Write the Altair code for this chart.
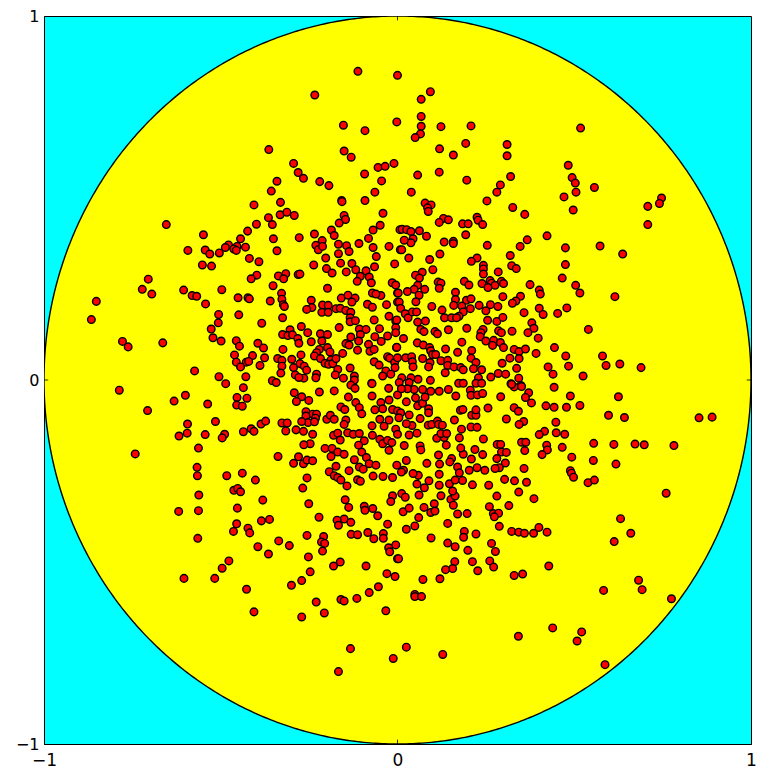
import altair as alt
import pandas as pd

upper_left = [
(-.112,.848),(0,.837),(-.234,.783),(-.153,.700),(-.092,.685),(-.002,.709),(-.364,.633),(-.151,.629),(-.131,.612),(-.294,.595),
(-.281,.570),(-.266,.554),(-.341,.546),(-.357,.519),(-.220,.545),(-.194,.534),(-.055,.584),(-.035,.587),(-.010,.595),(-.093,.566),
(-.045,.547),(-.064,.516),(-.092,.493),(-.158,.493),(-.157,.490),(-.331,.488),(-.406,.481),(-.332,.454),(-.313,.461),(-.292,.452),
(-.365,.446),(-.354,.427),(-.399,.428),(-.424,.409),(-.549,.399),(-.654,.427),(-.041,.458),(-.151,.452),(-.147,.441),(-.165,.431),
(-.049,.425),(-.069,.412),(-.187,.412),(-.179,.397),(-.235,.401),(-.278,.391),(-.351,.388),(-.444,.388),(-.213,.383),(-.082,.389),
(-.231,.370),(-.224,.358),(-.212,.367),(-.167,.373),(-.144,.369),(-.137,.353),(-.167,.347),(-.109,.375),(-.069,.364),(-.024,.367),
(.007,.413),(.008,.358),(-.478,.371),(-.487,.364),(-.454,.367),(-.463,.360),(-.456,.356),(-.430,.365),(-.504,.349),(-.544,.357),
(-.531,.346),(-.593,.356),(-.341,.355),(-.419,.334),(-.392,.325),(-.552,.316),(-.526,.313),(-.203,.335),(-.237,.316),(-.161,.321),
(-.201,.306),(-.185,.294),(-.145,.297),(-.129,.320),(-.118,.303),(-.060,.339),(-.065,.311),(-.089,.300),(-.008,.319),(-.080,.283),
(-.105,.285),(-.114,.271),(-.074,.267),(-.015,.267),(-.005,.261),(-.337,.286),(-.316,.292),(-.322,.278),(-.398,.288),(-.414,.278),
(-.281,.290),(-.276,.291),(-.352,.259),(-.198,.252),(-.705,.277),(-.722,.249),(-.695,.236),(-.605,.247),(-.581,.232),(-.568,.230),
(-.497,.248),(-.852,.216),(-.866,.166),(-.543,.209),(-.451,.226),(-.423,.226),(-.419,.223),(-.360,.217),(-.328,.238),(-.327,.222),
(-.323,.207),(-.320,.202),(-.244,.219),(-.242,.199),(-.257,.194),(-.212,.206),(-.196,.205),(-.214,.186),(-.196,.186),(-.174,.196),
(-.162,.197),(-.159,.225),(-.140,.233),(-.120,.225),(-.129,.214),(-.146,.191),(-.132,.186),(-.071,.239),(-.047,.232),(-.061,.236),
(-.085,.208),(-.071,.200),(-.031,.207),(0,.239),(0,.214),(-.024,.175),(-.005,.162),(-.066,.165),(-.506,.180),(-.507,.157),
(-.449,.179),(-.384,.156),(-.325,.171),(-.134,.171),(-.134,.160),(-.119,.163),(-.272,.147),(-.527,.140),(-.304,.138),(-.165,.144),
(-.108,.140),(-.089,.139),(-.051,.141),(-.005,.144),(-.522,.116),(-.499,.107),(-.325,.125),(-.310,.122),(-.297,.124),(-.282,.114),
(-.279,.101),(-.254,.130),(-.218,.127),(-.198,.125),(-.244,.105),(-.214,.107),(-.132,.118),(-.105,.125),(-.110,.107),(-.146,.100),
(-.137,.096),(-.064,.119),(-.046,.106),(-.028,.121),(-.082,.098),(-.778,.106),(-.762,.091),(-.664,.102),(-.456,.108),(-.447,.093),
(-.395,.101),(-.379,.088),(-.324,.084),(-.198,.089),(-.221,.084),(-.229,.075),(-.235,.066),(-.191,.077),(-.155,.073),(-.113,.082),
(-.078,.079),(-.066,.084),(-.003,.089),(-.273,.069),(-.461,.069),(-.410,.067),(-.376,.061),(-.339,.059),(-.327,.054),(-.299,.057),
(-.218,.059),(-.188,.055),(-.456,.049),(-.428,.049),(-.421,.051),(-.389,.040),(-.444,.036),(-.327,.038),(-.294,.034),(-.276,.045),
(-.264,.038),(-.257,.027),(-.205,.046),(-.195,.043),(-.183,.045),(-.174,.059),(-.169,.029),(-.134,.033),(-.066,.050),(-.052,.041),
(-.028,.064),(-.022,.060),(-.008,.048),(-.007,.034),(-.033,.025),(-.042,.011),(-.019,.016),(-.574,.025),(-.505,.009),(-.429,.009),
(-.330,.019),(-.289,.014),(-.229,.016),(-.231,.006),(-.176,.014),(-.153,.005),(-.122,.011),(-.122,.000),(-.265,.005),(-.279,.007),
(-.354,-.002),(-.486,-.010),(-.343,-.007),(-.073,-.009),
]

upper_right = [
(.093,.792),(.067,.771),(.067,.724),(.067,.697),(.123,.696),(.208,.698),(.518,.692),(.065,.676),(.050,.666),(.119,.635),
(.193,.650),(.158,.618),(.310,.647),(.310,.616),(.057,.563),(.118,.571),(.196,.549),(.320,.559),(.291,.536),(.281,.516),
(.483,.590),(.494,.556),(.503,.541),(.505,.516),(.557,.529),(.471,.503),(.497,.467),(.039,.516),(.253,.492),(.078,.486),
(.095,.481),(.085,.473),(.087,.463),(.326,.474),(.360,.455),(.747,.500),(.741,.485),(.708,.477),(.708,.427),(.130,.444),
(.144,.440),(.118,.433),(.225,.447),(.228,.439),(.241,.427),(.184,.429),(.200,.429),(.013,.414),(.026,.413),(.038,.408),
(.062,.410),(.082,.395),(.044,.388),(.038,.377),(.019,.384),(.193,.399),(.423,.396),(.367,.385),(.347,.367),(.132,.379),
(.158,.381),(.158,.375),(.254,.370),(.475,.363),(.573,.368),(.637,.346),(.012,.358),(.120,.346),(.032,.335),(.091,.331),
(.319,.342),(.225,.335),(.209,.326),(.243,.315),(.243,.305),(.243,.291),(.323,.314),(.336,.306),(.475,.317),(.100,.303),
(.070,.296),(.051,.288),(.062,.280),(.285,.297),(.466,.280),(.115,.269),(.123,.266),(.118,.252),(.189,.271),(.202,.261),
(.239,.265),(.262,.273),(.266,.266),(.276,.260),(.256,.254),(.294,.271),(.300,.265),(.375,.262),(.504,.260),(.401,.247),
(.404,.236),(.516,.239),(.615,.229),(.057,.260),(.047,.249),(.077,.249),(.028,.243),(.002,.239),(.061,.233),(.052,.215),
(.164,.241),(.164,.221),(.195,.219),(.208,.223),(.298,.229),(.348,.230),(.335,.217),(.325,.211),(.097,.202),(.159,.205),
(.182,.203),(.206,.196),(.186,.187),(.231,.205),(.263,.207),(.284,.202),(.250,.190),(.126,.192),(.174,.175),(.133,.171),
(.153,.171),(.167,.171),(.401,.197),(.412,.180),(.358,.185),(.453,.183),(.479,.198),(.005,.214),(.009,.197),(.022,.182),
(.030,.171),(.042,.187),(.054,.187),(-.002,.165),(.255,.164),(.281,.161),(.298,.172),(.079,.162),(.057,.159),(.380,.157),
(.386,.142),(.066,.139),(.075,.133),(.106,.133),(.113,.127),(.144,.138),(.196,.142),(.242,.139),(.236,.130),(.234,.119),
(.286,.135),(.294,.130),(.324,.134),(.369,.130),(.540,.139),(.398,.115),(-.005,.130),(.017,.114),(.056,.102),(.073,.096),
(.182,.104),(.272,.109),(.250,.107),(.291,.103),(.269,.095),(.300,.089),(.091,.089),(.094,.080),(.136,.085),(.170,.076),
(.210,.081),(.330,.084),(.344,.078),(.362,.085),(.392,.073),(.444,.089),(-.002,.090),(0,.061),(.023,.061),(.040,.064),
(.071,.059),(.099,.070),(.108,.070),(.042,.050),(.092,.048),(.088,.036),(.123,.053),(.142,.054),(.142,.040),(.160,.036),
(.179,.034),(.186,.028),(.208,.060),(.222,.048),(.215,.031),(.238,.028),(.318,.060),(.344,.059),(.296,.046),(.337,.032),
(.476,.066),(.580,.066),(.590,.040),(.629,.044),(.689,.034),(.426,.036),(.440,.016),(.484,.038),(.525,.011),(.044,.036),
(.135,.020),(.285,.018),(.306,.016),(.264,.008),(.229,.006),(.343,.005),(.093,-.001),(.058,.002),(.038,.006),(.012,.006),
(.033,-.007),(.173,-.009),(.186,-.009),(.222,-.009),(.238,-.009),(.321,-.010),(.349,-.015),(.005,-.007),
]

lower_left = [
(-.787,-.028),(-.632,-.058),(-.600,-.042),(-.707,-.084),(-.537,-.066),(-.454,-.048),(-.426,-.050),(-.455,-.069),(-.439,-.072),(-.436,-.021),
(-.292,-.035),(-.271,-.046),(-.286,-.059),(-.251,-.056),(-.221,-.033),(-.179,-.030),(-.139,-.047),(-.132,-.014),(-.120,-.023),(-.072,-.010),
(-.025,-.023),(-.072,-.044),(0,-.041),(-.118,-.062),(-.108,-.076),(-.101,-.093),(-.160,-.074),(-.149,-.081),(-.064,-.082),(-.047,-.062),
(-.042,-.079),(-.024,-.055),(-.014,-.081),(0,-.085),(-.259,-.087),(-.240,-.094),(-.229,-.094),(-.259,-.099),(-.232,-.105),(-.253,-.117),
(-.271,-.114),(-.235,-.115),(-.200,-.108),(-.190,-.097),(-.179,-.108),(-.146,-.110),(-.151,-.122),(-.050,-.108),(-.024,-.110),(-.072,-.126),
(-.038,-.127),(-.005,-.135),(-.594,-.121),(-.515,-.114),(-.386,-.121),(-.373,-.113),(-.327,-.118),(-.312,-.118),(-.595,-.146),(-.618,-.154),
(-.544,-.150),(-.489,-.149),(-.496,-.159),(-.436,-.142),(-.414,-.134),(-.406,-.141),(-.316,-.140),(-.287,-.137),(-.266,-.141),(-.240,-.149),
(-.181,-.152),(-.169,-.146),(-.162,-.165),(-.141,-.145),(-.125,-.149),(-.108,-.147),(-.071,-.152),(-.050,-.163),(-.042,-.175),(-.028,-.166),
(-.016,-.172),(0,-.149),(-.094,-.167),(-.110,-.179),(-.024,-.193),(-.563,-.187),(-.247,-.175),(-.265,-.178),(-.205,-.188),(-.185,-.188),
(-.169,-.198),(-.151,-.204),(-.188,-.210),(-.101,-.198),(-.088,-.213),(-.742,-.203),(-.338,-.210),(-.280,-.211),(-.294,-.229),(-.266,-.230),
(-.256,-.220),(-.240,-.222),(-.122,-.219),(-.080,-.230),(-.061,-.234),(-.108,-.239),(-.097,-.245),(-.174,-.237),(-.137,-.249),(-.002,-.234),
(-.567,-.240),(-.193,-.252),(-.566,-.263),(-.483,-.263),(-.439,-.256),(-.402,-.275),(-.256,-.269),(-.179,-.263),(-.169,-.268),(-.160,-.275),
(-.143,-.291),(-.113,-.274),(-.105,-.278),(-.069,-.264),(-.041,-.265),(-.014,-.268),(-.268,-.297),(-.463,-.303),(-.452,-.298),(-.444,-.307),
(-.562,-.316),(-.014,-.318),(-.381,-.330),(-.251,-.340),(-.148,-.329),(-.138,-.350),(-.019,-.334),(-.094,-.347),(-.092,-.358),(-.070,-.353),
(-.453,-.352),(-.619,-.361),(-.563,-.359),(-.056,-.373),(-.222,-.377),(-.151,-.382),(-.171,-.385),(-.132,-.391),(-.167,-.399),(-.385,-.387),
(-.362,-.383),(-.455,-.395),(-.423,-.407),(-.418,-.420),(-.464,-.416),(-.028,-.396),(-.131,-.424),(-.113,-.425),(-.084,-.419),(-.040,-.422),
(-.040,-.435),(-.067,-.436),(-.256,-.427),(-.209,-.430),(-.565,-.435),(-.336,-.442),(-.306,-.455),(-.215,-.445),(-.206,-.449),(-.395,-.458),
(-.005,-.453),(-.025,-.461),(-.022,-.472),(-.365,-.478),(-.212,-.470),(-.252,-.486),(0,-.491),(-.477,-.497),(-.162,-.500),(-.181,-.511),
(-.089,-.511),(-.496,-.517),(-.247,-.527),(-.030,-.532),(-.007,-.540),(-.604,-.545),(-.517,-.545),(-.271,-.551),(-.300,-.564),(-.054,-.568),
(-.427,-.575),(-.080,-.584),(-.115,-.600),(-.160,-.603),(-.151,-.607),(-.230,-.610),(-.406,-.637),(-.207,-.640),(-.033,-.634),(-.271,-.651),
(-.133,-.738),(-.012,-.765),(-.167,-.801),
]

lower_right = [
(.443,-.020),(.625,-.046),(.489,-.044),(.597,-.097),(.642,-.103),(.853,-.104),(.890,-.102),(.292,-.046),(.330,-.019),(.351,-.018),
(.371,-.035),(.362,-.048),(.379,-.063),(.420,-.071),(.443,-.075),(.478,-.075),(.516,-.070),(.323,-.012),(.256,-.077),(.330,-.076),
(.342,-.086),(.308,-.107),(.357,-.114),(.344,-.122),(.448,-.116),(.416,-.141),(.401,-.150),(.449,-.145),(.473,-.149),(.555,-.174),
(.612,-.177),(.672,-.176),(.698,-.178),(.782,-.180),(.422,-.179),(.424,-.192),(.409,-.205),(.466,-.185),(.351,-.171),(.363,-.171),
(.360,-.194),(.282,-.177),(.292,-.177),(.294,-.198),(.308,-.199),(.281,-.216),(.305,-.228),(.493,-.212),(.554,-.221),(.618,-.231),
(.358,-.243),(.288,-.241),(.276,-.243),(.489,-.249),(.492,-.256),(.498,-.267),(.539,-.282),(.557,-.275),(.303,-.273),(.331,-.277),
(.365,-.281),(.258,-.289),(.212,-.288),(.343,-.308),(.760,-.311),(.281,-.319),(.386,-.326),(.315,-.345),(.260,-.348),(.271,-.367),
(.286,-.366),(.274,-.376),(.197,-.367),(.170,-.368),(.631,-.381),(.288,-.402),(.142,-.394),(.323,-.416),(.343,-.418),(.359,-.421),
(.385,-.421),(.400,-.405),(.423,-.418),(.222,-.423),(.189,-.416),(.187,-.432),(.660,-.421),(.613,-.444),(.095,-.434),(.142,-.448),
(.163,-.458),(.266,-.449),(.277,-.471),(.199,-.468),(.212,-.499),(.162,-.499),(.261,-.497),(.272,-.514),(.156,-.518),(.136,-.521),
(.227,-.524),(.428,-.511),(.354,-.533),(.330,-.537),(.120,-.546),(.072,-.548),(.682,-.550),(.692,-.576),(.583,-.578),(.775,-.601),
(.049,-.589),(.049,-.595),(.068,-.595),(.439,-.681),(.342,-.704),(.521,-.692),(.508,-.717),(.025,-.734),(.128,-.754),(.587,-.782),
(.003,-.491),(.025,-.410),(.049,-.401),(.060,-.378),(.016,-.362),(.033,-.352),(.012,-.312),(.022,-.322),(.061,-.316),(.076,-.296),
(.055,-.286),(.089,-.277),(.118,-.289),(.147,-.285),(.163,-.275),(.184,-.276),(.118,-.259),(.059,-.262),(.044,-.257),(.017,-.248),
(.011,-.253),(.025,-.221),(.083,-.229),(.119,-.231),(.116,-.206),(.153,-.216),(.148,-.225),(.170,-.239),(.175,-.255),(.203,-.248),
(.225,-.241),(.247,-.248),(.209,-.217),(.241,-.205),(.219,-.191),(.186,-.204),(.179,-.187),(.138,-.179),(.064,-.181),(.066,-.192),
(.019,-.180),(.111,-.160),(.132,-.158),(.175,-.159),(.243,-.162),(.123,-.147),(.139,-.147),(.055,-.146),(.033,-.151),(.041,-.125),
(.025,-.120),(.087,-.124),(.097,-.122),(.113,-.113),(.116,-.122),(.127,-.124),(.181,-.135),(.208,-.129),(.225,-.130),(.210,-.097),
(.222,-.097),(.222,-.082),(.178,-.083),(.185,-.081),(.161,-.110),(.064,-.106),(.033,-.096),(.009,-.090),(.004,-.104),(.088,-.079),
(.057,-.071),(.071,-.064),(.025,-.060),(.078,-.047),(.051,-.049),(.094,-.031),(.118,-.031),(.144,-.026),(.165,-.044),(.206,-.028),
(.208,-.042),(.226,-.041),(.241,-.037),(.047,-.026),(.028,-.024),(.011,-.024),(.071,-.026),(.088,-.090),(.123,-.318),(.151,-.328),
(.163,-.319),(.158,-.344),(.156,-.305),(.104,-.340),(.094,-.364),(.106,-.360),(.075,-.350),
]

tick_values = [-1, 0, 1]
tick_length = 0.012

points = pd.DataFrame(upper_left + upper_right + lower_left + lower_right, columns=["x", "y"])

x_scale = alt.Scale(domain=[-1, 1], nice=False, zero=False)
y_scale = alt.Scale(domain=[-1, 1], nice=False, zero=False)
label_expr = "datum.value < 0 ? '\u2212' + abs(datum.value) : '' + datum.value"

disc = (
    alt.Chart(alt.sequence(0, 721, 1, as_="t"))
    .transform_calculate(cx="cos(datum.t * PI / 360)", cy="sin(datum.t * PI / 360)")
    .mark_line(fill="#ffff00", stroke="#000000", strokeWidth=1.4, clip=True)
    .encode(
        x=alt.X("cx:Q", scale=x_scale,
                axis=alt.Axis(values=tick_values, title=None, grid=False, ticks=False, labelExpr=label_expr,
                              labelFontSize=17, labelFont="DejaVu Sans", labelColor="#000000",
                              labelPadding=8, domainColor="#000000", labelFlush=False, labelOverlap=False)),
        y=alt.Y("cy:Q", scale=y_scale,
                axis=alt.Axis(values=tick_values, title=None, grid=False, ticks=False, labelExpr=label_expr,
                              labelFontSize=16, labelFont="DejaVu Sans", labelColor="#000000",
                              labelPadding=5, domainColor="#000000", labelFlush=False, labelOverlap=False)),
        order=alt.Order("t:Q"),
    )
)

dots = (
    alt.Chart(points)
    .mark_point(filled=True, fill="#ff0000", stroke="#000000", strokeWidth=1.4, size=58, opacity=1, shape="circle")
    .encode(x=alt.X("x:Q", scale=x_scale), y=alt.Y("y:Q", scale=y_scale))
)

ticks_x = pd.DataFrame({"x": [0, 0], "y": [-1, 1 - tick_length], "y2": [-1 + tick_length, 1]})
ticks_y = pd.DataFrame({"y": [0, 0], "x": [-1, 1 - tick_length], "x2": [-1 + tick_length, 1]})
tick_x_layer = alt.Chart(ticks_x).mark_rule(color="#000000", strokeWidth=0.8).encode(
    x=alt.X("x:Q", scale=x_scale), y=alt.Y("y:Q", scale=y_scale), y2="y2:Q")
tick_y_layer = alt.Chart(ticks_y).mark_rule(color="#000000", strokeWidth=0.8).encode(
    y=alt.Y("y:Q", scale=y_scale), x=alt.X("x:Q", scale=x_scale), x2="x2:Q")

chart = (
    alt.layer(disc, tick_x_layer, tick_y_layer, dots)
    .properties(
        width=707, height=728,
        padding={"left": 36, "top": 8, "right": 10, "bottom": 26},
        autosize=alt.AutoSizeParams(type="none"),
        background="#ffffff",
    )
    .configure_view(fill="#00ffff", stroke="#000000", strokeWidth=1)
)

chart.save("out.html", embed_options={"renderer": "svg", "actions": False})
